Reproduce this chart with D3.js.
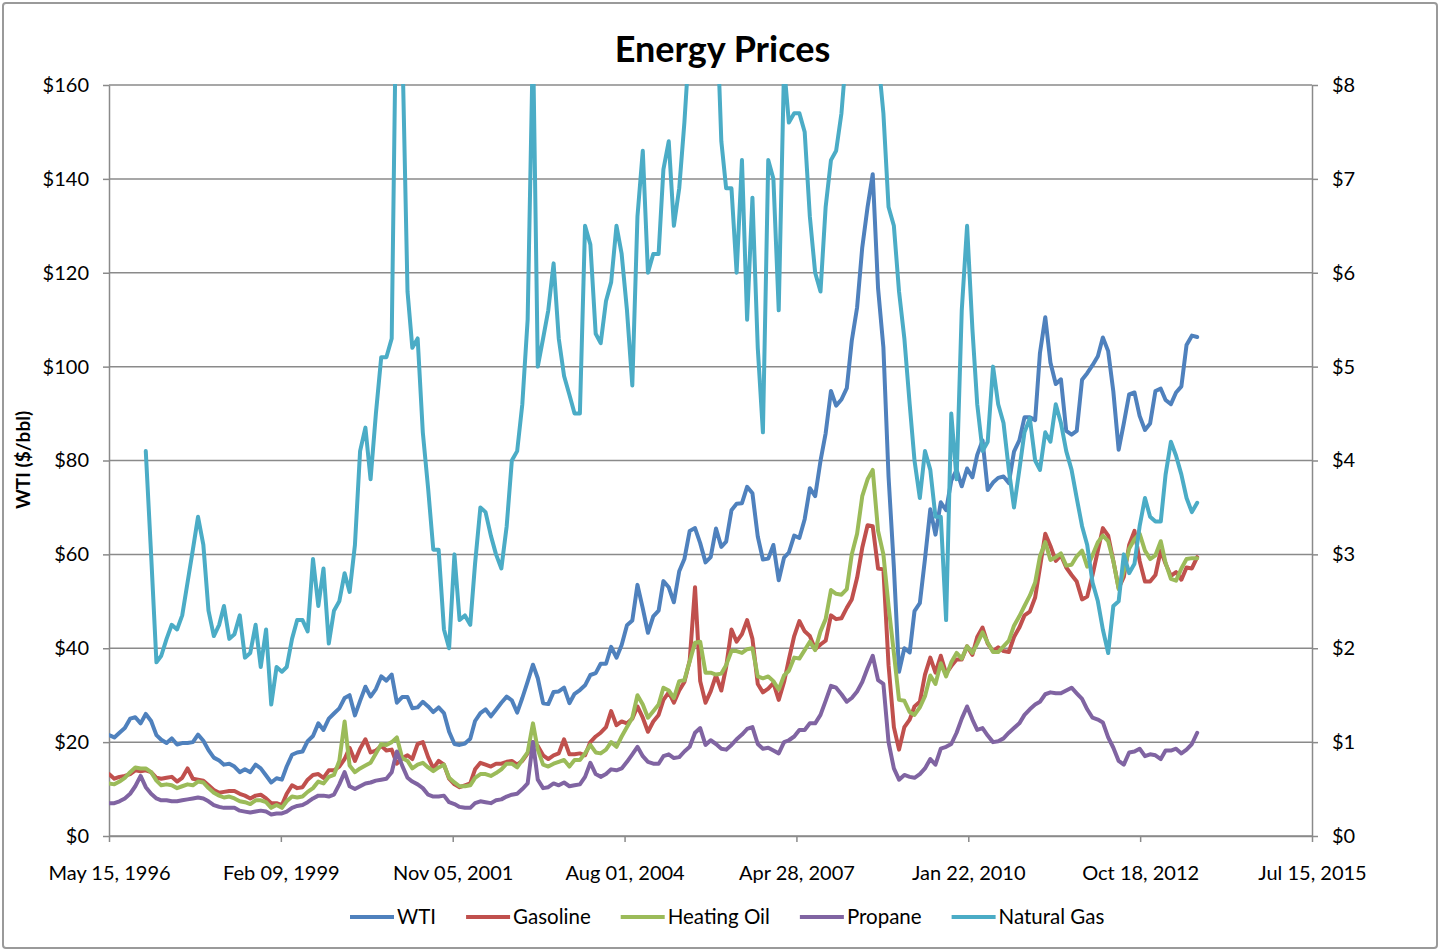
<!DOCTYPE html>
<html>
<head>
<meta charset="utf-8">
<script src="https://cdn.jsdelivr.net/npm/d3@7/dist/d3.min.js"></script>
<style>
  body { margin: 0; background: #fff; }
  text { font-family: Lato, "Open Sans", sans-serif; fill: #000; }
</style>
</head>
<body>
<div id="chart"></div>
<script>
// monthly points, 15th of each month, May 1996 .. Sep 2013
const months = d3.range(209).map(i => new Date(1996, 4 + i, 15));

// WTI crude, $/bbl (left axis)
const wti = [
  21.5, 21.0, 22.0, 23.0, 25.0, 25.3, 24.0, 26.0,
  24.5, 21.5, 20.5, 19.8, 20.8, 19.5, 19.8, 19.8, 20.0, 21.6, 20.3, 18.3,
  16.7, 16.1, 15.2, 15.4, 14.8, 13.6, 14.2, 13.6, 15.2, 14.4, 12.9, 11.4,
  12.3, 12.0, 14.8, 17.3, 17.8, 18.0, 20.2, 21.3, 24.0, 22.6, 25.0, 26.1,
  27.2, 29.4, 30.0, 25.7, 28.8, 31.8, 29.7, 31.3, 34.0, 33.1, 34.4, 28.4,
  29.6, 29.6, 27.2, 27.4, 28.6, 27.6, 26.4, 27.4, 26.2, 22.2, 19.6, 19.4,
  19.7, 20.7, 24.5, 26.2, 27.0, 25.5, 26.9, 28.4, 29.7, 28.9, 26.3, 29.4,
  32.9, 36.5, 33.6, 28.3, 28.1, 30.7, 30.8, 31.6, 28.3, 30.3, 31.1, 32.1,
  34.3, 34.7, 36.7, 36.7, 40.3, 38.0, 40.7, 44.9, 45.9, 53.5, 48.5, 43.3,
  46.8, 48.0, 54.3, 53.0, 49.8, 56.4, 59.0, 65.0, 65.6, 62.4, 58.3, 59.4,
  65.5, 61.6, 62.7, 69.4, 70.8, 70.9, 74.4, 73.0, 63.8, 58.9, 59.1, 62.0,
  54.5, 59.3, 60.4, 64.0, 63.5, 67.5, 74.1, 72.4, 79.9, 85.8, 94.8, 91.7,
  93.0, 95.4, 105.5, 112.6, 125.4, 134.0, 141.0, 116.7, 104.1, 76.6, 57.3, 35.0,
  40.0, 39.1, 47.9, 49.6, 59.0, 69.6, 64.2, 71.1, 69.4, 75.7, 78.0, 74.5,
  78.3, 76.4, 81.2, 84.3, 73.7, 75.3, 76.3, 76.6, 75.2, 81.9, 84.3, 89.2,
  89.2, 88.6, 102.9, 110.5, 100.9, 96.3, 97.3, 86.3, 85.5, 86.3, 97.2, 98.6,
  100.3, 102.2, 106.2, 103.3, 94.7, 82.3, 87.9, 94.1, 94.5, 89.5, 86.5, 87.9,
  94.8, 95.3, 92.9, 92.0, 94.5, 95.8, 104.6, 106.6, 106.3
];

// gasoline, $/gal (right axis)
const gasoline = [
  0.66, 0.61, 0.63, 0.64, 0.66, 0.70, 0.69, 0.70,
  0.68, 0.62, 0.61, 0.62, 0.63, 0.58, 0.62, 0.72, 0.61, 0.60, 0.59, 0.54,
  0.49, 0.46, 0.47, 0.48, 0.48, 0.45, 0.43, 0.40, 0.43, 0.44, 0.40, 0.35,
  0.35, 0.33, 0.45, 0.54, 0.51, 0.52, 0.60, 0.65, 0.66, 0.62, 0.70, 0.70,
  0.74, 0.82, 0.94, 0.80, 0.93, 1.03, 0.89, 0.91, 0.96, 0.91, 0.92, 0.77,
  0.83, 0.86, 0.82, 0.98, 1.00, 0.84, 0.72, 0.80, 0.76, 0.61, 0.55, 0.52,
  0.54, 0.56, 0.71, 0.78, 0.76, 0.74, 0.77, 0.77, 0.79, 0.80, 0.76, 0.80,
  0.88, 1.00, 0.96, 0.86, 0.82, 0.86, 0.88, 1.03, 0.87, 0.87, 0.88, 0.86,
  1.00, 1.06, 1.10, 1.16, 1.33, 1.18, 1.22, 1.20, 1.25, 1.38, 1.26, 1.11,
  1.22, 1.29, 1.45, 1.53, 1.42, 1.55, 1.64, 1.87, 2.65, 1.65, 1.42, 1.54,
  1.71, 1.55, 1.80, 2.20, 2.07, 2.15, 2.30, 2.10, 1.62, 1.53, 1.57, 1.63,
  1.45, 1.64, 1.88, 2.13, 2.29, 2.18, 2.13, 1.99, 2.04, 2.08, 2.35, 2.31,
  2.32, 2.43, 2.52, 2.75, 3.07, 3.31, 3.30, 2.85, 2.84, 1.82, 1.16, 0.92,
  1.16, 1.24, 1.38, 1.43, 1.72, 1.90, 1.74, 1.92, 1.73, 1.81, 1.88, 1.88,
  2.02, 1.93, 2.12, 2.22, 2.05, 1.97, 2.01, 1.97, 1.96, 2.12, 2.22, 2.35,
  2.39, 2.54, 2.86, 3.22, 3.09, 2.93, 2.99, 2.86, 2.78, 2.71, 2.52, 2.55,
  2.78, 3.04, 3.28, 3.20, 2.93, 2.64, 2.76, 3.10, 3.25, 2.93, 2.71, 2.71,
  2.78, 3.04, 2.90, 2.77, 2.81, 2.73, 2.86, 2.85, 2.97
];

// heating oil, $/gal (right axis)
const heatingOil = [
  0.56, 0.55, 0.58, 0.62, 0.68, 0.73, 0.72, 0.72,
  0.68, 0.59, 0.54, 0.55, 0.54, 0.51, 0.53, 0.55, 0.54, 0.58, 0.57, 0.51,
  0.46, 0.43, 0.41, 0.42, 0.40, 0.37, 0.36, 0.34, 0.38, 0.38, 0.36, 0.30,
  0.33, 0.30, 0.37, 0.42, 0.41, 0.42, 0.47, 0.51, 0.58, 0.56, 0.63, 0.65,
  0.80, 1.22, 0.75, 0.68, 0.72, 0.75, 0.78, 0.88, 0.98, 0.97, 1.00, 1.05,
  0.83, 0.80, 0.72, 0.76, 0.78, 0.73, 0.69, 0.73, 0.76, 0.62, 0.57, 0.53,
  0.53, 0.54, 0.62, 0.66, 0.66, 0.64, 0.67, 0.71, 0.77, 0.77, 0.73, 0.81,
  0.89, 1.20, 0.92, 0.76, 0.74, 0.77, 0.79, 0.81, 0.74, 0.81, 0.81, 0.88,
  0.97, 0.89, 0.88, 0.92, 1.00, 0.95, 1.06, 1.16, 1.26, 1.50, 1.40, 1.26,
  1.33, 1.40, 1.58, 1.55, 1.47, 1.65, 1.66, 1.86, 2.06, 2.07, 1.74, 1.74,
  1.72, 1.73, 1.82, 1.97, 1.97, 1.95, 1.99, 2.00, 1.70, 1.68, 1.70, 1.65,
  1.56, 1.71, 1.76, 1.90, 1.89, 1.98, 2.07, 1.98, 2.18, 2.31, 2.62, 2.58,
  2.57, 2.63, 3.00, 3.22, 3.62, 3.80, 3.90, 3.25, 3.00, 2.45, 1.95, 1.45,
  1.44, 1.32, 1.29, 1.37, 1.49, 1.71, 1.62, 1.84, 1.70, 1.85, 1.95, 1.89,
  2.02, 1.95, 2.05, 2.17, 2.06, 1.96, 1.96, 2.02, 2.08, 2.24, 2.34, 2.45,
  2.56, 2.70, 2.98, 3.13, 2.94, 2.97, 3.01, 2.88, 2.89, 2.98, 3.04, 2.87,
  2.99, 3.13, 3.20, 3.14, 2.93, 2.63, 2.82, 3.06, 3.16, 3.22, 3.04, 2.95,
  2.99, 3.14, 2.91, 2.74, 2.72, 2.85, 2.95, 2.96, 2.96
];

// propane, $/gal (right axis)
const propane = [
  0.35, 0.35, 0.37, 0.40, 0.45, 0.53, 0.64, 0.52,
  0.45, 0.40, 0.38, 0.38, 0.37, 0.37, 0.38, 0.39, 0.40, 0.41, 0.40, 0.37,
  0.33, 0.31, 0.30, 0.30, 0.30, 0.27, 0.26, 0.25, 0.26, 0.27, 0.26, 0.23,
  0.24, 0.24, 0.26, 0.30, 0.32, 0.33, 0.36, 0.40, 0.43, 0.43, 0.42, 0.44,
  0.55, 0.68, 0.53, 0.50, 0.53, 0.56, 0.57, 0.59, 0.60, 0.61, 0.68, 0.90,
  0.75, 0.62, 0.58, 0.55, 0.51, 0.44, 0.42, 0.42, 0.43, 0.36, 0.34, 0.31,
  0.30, 0.30, 0.35, 0.37, 0.36, 0.35, 0.38, 0.39, 0.42, 0.44, 0.45, 0.50,
  0.56, 1.00, 0.60, 0.51, 0.52, 0.56, 0.54, 0.57, 0.53, 0.54, 0.55, 0.63,
  0.78, 0.66, 0.63, 0.66, 0.71, 0.70, 0.72, 0.79, 0.87, 0.95, 0.85, 0.79,
  0.77, 0.77, 0.85, 0.87, 0.83, 0.84, 0.90, 0.95, 1.10, 1.15, 0.97, 1.02,
  0.98, 0.93, 0.92, 0.97, 1.03, 1.08, 1.14, 1.16, 0.98, 0.93, 0.94, 0.91,
  0.88, 1.00, 1.02, 1.06, 1.13, 1.13, 1.20, 1.20, 1.29, 1.44, 1.60, 1.58,
  1.51, 1.43, 1.47, 1.54, 1.64, 1.79, 1.92, 1.66, 1.62, 1.00, 0.72, 0.60,
  0.65, 0.63, 0.62, 0.66, 0.72, 0.82, 0.76, 0.93, 0.95, 0.98, 1.10, 1.25,
  1.38, 1.24, 1.13, 1.15, 1.07, 1.00, 1.01, 1.04, 1.10, 1.15, 1.20, 1.29,
  1.35, 1.40, 1.43, 1.51, 1.53, 1.52, 1.52, 1.55, 1.58, 1.52, 1.46, 1.35,
  1.26, 1.24, 1.21, 1.05, 0.94, 0.80, 0.76, 0.89, 0.90, 0.93, 0.85, 0.87,
  0.86, 0.82, 0.91, 0.91, 0.93, 0.88, 0.92, 0.98, 1.10
];

// natural gas, $/MMBtu (right axis) - no data before Dec 1996
const natGas = [
  null, null, null, null, null, null, null, 4.10,
  3.00, 1.85, 1.92, 2.10, 2.25, 2.20, 2.35, 2.70, 3.05, 3.40, 3.10, 2.40,
  2.13, 2.25, 2.45, 2.10, 2.15, 2.35, 1.90, 1.95, 2.25, 1.80, 2.20, 1.40,
  1.80, 1.75, 1.80, 2.10, 2.30, 2.30, 2.18, 2.95, 2.45, 2.85, 2.05, 2.40,
  2.50, 2.80, 2.60, 3.10, 4.10, 4.35, 3.80, 4.50, 5.10, 5.10, 5.30, 9.50,
  8.50, 5.80, 5.20, 5.30, 4.30, 3.70, 3.05, 3.05, 2.20, 2.00, 3.00, 2.30,
  2.35, 2.25, 2.90, 3.50, 3.45, 3.20, 3.00, 2.85, 3.30, 4.00, 4.10, 4.60,
  5.50, 8.50, 5.00, 5.30, 5.60, 6.10, 5.30, 4.90, 4.70, 4.50, 4.50, 6.50,
  6.30, 5.35, 5.25, 5.70, 5.90, 6.50, 6.20, 5.60, 4.80, 6.60, 7.30, 6.00,
  6.20, 6.20, 7.10, 7.40, 6.50, 6.90, 7.60, 8.50, 11.50, 13.00, 11.00, 13.00,
  9.00, 7.40, 6.90, 6.90, 6.00, 7.20, 5.50, 6.80, 5.20, 4.30, 7.20, 7.00,
  5.60, 8.20, 7.60, 7.70, 7.70, 7.50, 6.60, 6.00, 5.80, 6.70, 7.20, 7.30,
  7.70, 8.40, 9.40, 10.20, 11.30, 12.70, 11.10, 8.30, 7.70, 6.70, 6.50, 5.80,
  5.30, 4.60, 4.00, 3.60, 4.10, 3.90, 3.40, 3.40, 2.30, 4.50, 3.80, 5.60,
  6.50, 5.40, 4.60, 4.10, 4.20, 5.00, 4.60, 4.40, 3.90, 3.50, 3.90, 4.30,
  4.45, 4.00, 3.90, 4.30, 4.20, 4.60, 4.40, 4.10, 3.90, 3.60, 3.30, 3.10,
  2.70, 2.50, 2.20, 1.95, 2.45, 2.50, 3.00, 2.80, 2.90, 3.30, 3.60, 3.40,
  3.35, 3.35, 3.85, 4.20, 4.05, 3.85, 3.60, 3.45, 3.55
];

const seriesNames = ["WTI", "Gasoline", "Heating Oil", "Propane", "Natural Gas"];
const seriesColors = ["#4f81bd", "#c0504d", "#9bbb59", "#8064a2", "#4bacc6"];
const seriesAxis = ["left", "right", "right", "right", "right"];
const seriesValues = [wti, gasoline, heatingOil, propane, natGas];

// axis ticks
const xTickDates = ["1996-05-15", "1999-02-09", "2001-11-05", "2004-08-01",
  "2007-04-28", "2010-01-22", "2012-10-18", "2015-07-15"];
const leftTicks = [0, 20, 40, 60, 80, 100, 120, 140, 160];
const rightTicks = [0, 1, 2, 3, 4, 5, 6, 7, 8];

const W = 1441, H = 951;
const plot = { left: 109, right: 1312, top: 85, bottom: 836 };
const gridColor = "#8a8a8a";

const svg = d3.select("#chart").append("svg")
  .attr("width", W)
  .attr("height", H);

// outer frame
svg.append("rect")
  .attr("x", 3).attr("y", 3)
  .attr("width", W - 7).attr("height", H - 6)
  .attr("rx", 3)
  .attr("fill", "#fff")
  .attr("stroke", "#9a9a9a")
  .attr("stroke-width", 2);

const parseDay = d3.timeParse("%Y-%m-%d");
const x = d3.scaleTime()
  .domain([parseDay(xTickDates[0]), parseDay(xTickDates[xTickDates.length - 1])])
  .range([plot.left, plot.right]);
const yL = d3.scaleLinear().domain([0, 160]).range([plot.bottom, plot.top]);
const yR = d3.scaleLinear().domain([0, 8]).range([plot.bottom, plot.top]);

// gridlines
svg.append("g")
  .selectAll("line")
  .data(leftTicks)
  .join("line")
  .attr("x1", plot.left).attr("x2", plot.right)
  .attr("y1", d => yL(d)).attr("y2", d => yL(d))
  .attr("stroke", gridColor)
  .attr("stroke-width", 1.5);

// left axis
const gLeft = svg.append("g")
  .attr("transform", `translate(${plot.left},0)`)
  .call(d3.axisLeft(yL).tickValues(leftTicks).tickFormat(d => "$" + d)
    .tickSize(6).tickSizeOuter(0).tickPadding(14));

// right axis
const gRight = svg.append("g")
  .attr("transform", `translate(${plot.right},0)`)
  .call(d3.axisRight(yR).tickValues(rightTicks).tickFormat(d => "$" + d)
    .tickSize(6).tickSizeOuter(0).tickPadding(14));

// bottom axis
const gBottom = svg.append("g")
  .attr("transform", `translate(0,${plot.bottom})`)
  .call(d3.axisBottom(x).tickValues(xTickDates.map(parseDay))
    .tickFormat(d3.timeFormat("%b %d, %Y"))
    .tickSize(6).tickSizeOuter(0).tickPadding(24));

[gLeft, gRight, gBottom].forEach(g => {
  g.select(".domain").attr("stroke", gridColor).attr("stroke-width", 1.5);
  g.selectAll(".tick line").attr("stroke", gridColor).attr("stroke-width", 1.5);
  g.selectAll(".tick text")
    .style("font-family", "Lato, 'Open Sans', sans-serif")
    .style("font-size", "20px")
    .attr("fill", "#000");
});

// clip so natural gas spikes are cut at $8
svg.append("clipPath")
  .attr("id", "plot-clip")
  .append("rect")
  .attr("x", plot.left).attr("y", plot.top - 1)
  .attr("width", plot.right - plot.left)
  .attr("height", plot.bottom - plot.top + 2);

// the lines
const lines = svg.append("g").attr("clip-path", "url(#plot-clip)");
seriesValues.forEach((vals, i) => {
  const y = seriesAxis[i] == "left" ? yL : yR;
  const line = d3.line()
    .defined(d => d != null)
    .x((d, j) => x(months[j]))
    .y(d => y(d));
  lines.append("path")
    .datum(vals)
    .attr("d", line)
    .attr("fill", "none")
    .attr("stroke", seriesColors[i])
    .attr("stroke-width", 4)
    .attr("stroke-linejoin", "round")
    .attr("stroke-linecap", "round");
});

// title
svg.append("text")
  .attr("x", W / 2 + 2)
  .attr("y", 62)
  .attr("text-anchor", "middle")
  .style("font-size", "36px")
  .style("font-weight", "bold")
  .text("Energy Prices");

// y label
svg.append("text")
  .attr("transform", "translate(30,460) rotate(-90)")
  .attr("text-anchor", "middle")
  .style("font-size", "19px")
  .style("font-weight", "bold")
  .text("WTI ($/bbl)");

// legend
const legend = svg.append("g");
let lx = 350;
seriesNames.forEach((name, i) => {
  legend.append("line")
    .attr("x1", lx).attr("x2", lx + 44)
    .attr("y1", 917).attr("y2", 917)
    .attr("stroke", seriesColors[i])
    .attr("stroke-width", 4);
  const t = legend.append("text")
    .attr("x", lx + 47)
    .attr("y", 924)
    .style("font-size", "20.5px")
    .text(name);
  lx += 47 + t.node().getComputedTextLength() + 30;
});
</script>
</body>
</html>
